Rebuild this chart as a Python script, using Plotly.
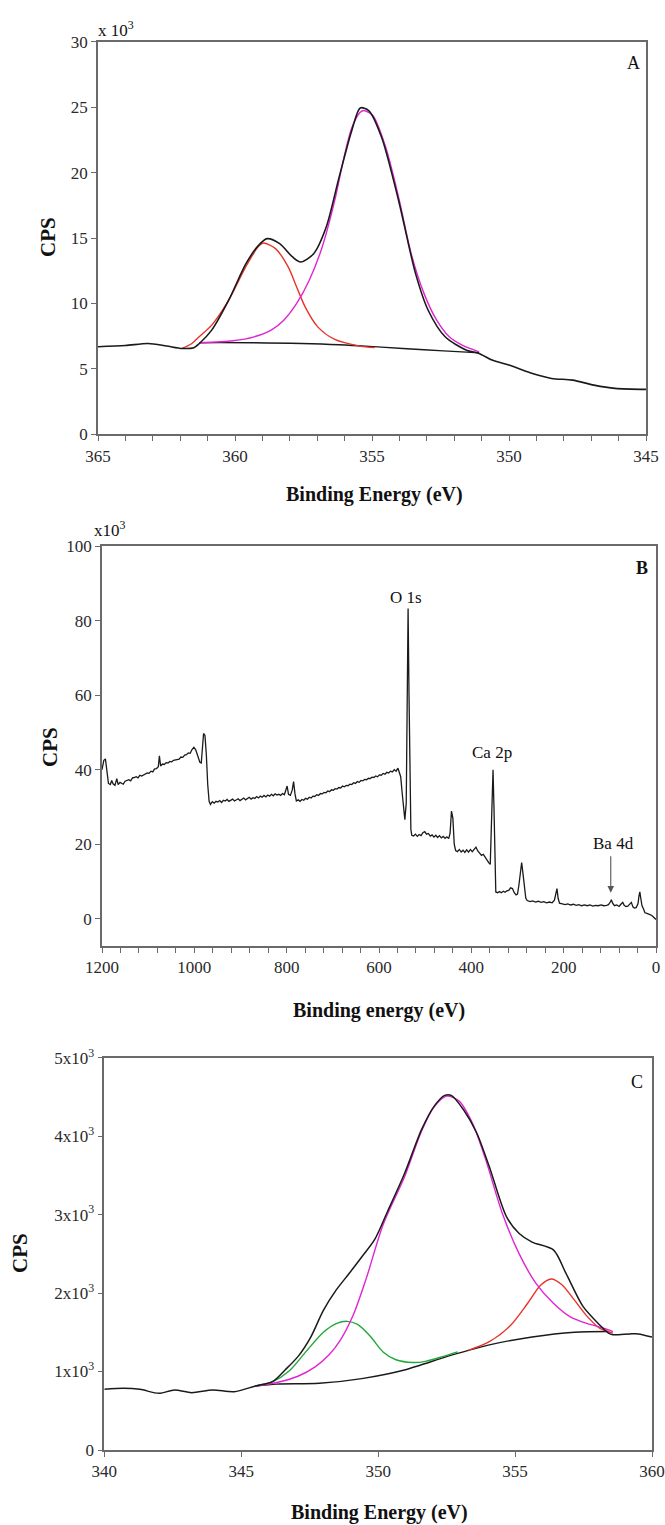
import plotly.graph_objects as go

W, H = 665, 1525
FONT = "Liberation Serif"

# ---------------- Panel A (Ca 2p high resolution), CPS in 10^3 ----------------
a_env_x = [365, 364.0, 363.17, 362.5, 361.93, 361.5, 361.3, 360.85, 360.23, 359.6, 359.14, 358.83,
           358.37, 357.9, 357.6, 357.13, 356.67, 356.2, 355.74, 355.43, 355.12, 354.65, 354.03,
           353.41, 352.95, 352.33, 351.55, 351.09, 350.62, 350.0, 349.23, 348.45, 347.68, 346.9,
           346.13, 345]
a_env_y = [6.69, 6.78, 6.94, 6.75, 6.56, 6.62, 6.94, 7.96, 10.25, 13.04, 14.44, 14.95,
           14.57, 13.55, 13.17, 13.8, 15.84, 19.65, 23.2, 24.94, 24.74, 22.7, 17.87,
           12.28, 9.48, 7.45, 6.43, 6.18, 5.67, 5.29, 4.7, 4.27, 4.14, 3.76,
           3.51, 3.43]
a_red_x = [361.93, 361.6, 361.31, 360.85, 360.23, 359.61, 359.14, 358.96, 358.52, 358.06, 357.75,
           357.44, 356.98, 356.36, 355.43, 354.9]
a_red_y = [6.56, 6.9, 7.45, 8.34, 10.25, 12.79, 14.37, 14.62, 14.19, 12.79, 11.26,
           9.74, 8.21, 7.25, 6.74, 6.62]
a_mag_x = [361.31, 360.07, 359.3, 358.68, 358.22, 357.75, 357.29, 356.82, 356.36, 356.05,
           355.74, 355.43, 355.3, 354.97, 354.5, 354.03, 353.57, 353.1, 352.64, 352.18,
           351.71, 351.09]
a_mag_y = [7.0, 7.15, 7.45, 7.96, 8.72, 10.0, 11.77, 14.3, 17.87, 20.9,
           23.4, 24.6, 24.74, 24.36, 21.94, 18.13, 13.8, 10.75, 8.72, 7.45,
           6.81, 6.3]
a_base_x = [361.31, 359.3, 356.2, 354.65, 353.1, 351.55, 351.09]
a_base_y = [7.0, 6.99, 6.84, 6.66, 6.46, 6.28, 6.23]

# ---------------- Panel B (survey), CPS in 10^3 ----------------
b_x = [1200, 1196, 1192.6, 1189, 1186, 1182, 1179, 1176, 1172, 1168, 1165, 1161, 1157, 1154, 1150,
       1146, 1142, 1138, 1134, 1130, 1126, 1122, 1118, 1114, 1110, 1106, 1102, 1098, 1094, 1090,
       1086, 1082, 1078, 1075.7, 1073, 1069, 1065, 1061, 1057, 1053, 1049, 1045, 1041, 1037, 1033,
       1029, 1025, 1021, 1017, 1013, 1009, 1005, 1001, 997, 993, 988, 985, 982, 980, 977, 974,
       971, 968, 965,
       961, 957, 953, 949, 945, 941, 937, 933, 929, 925, 921, 917, 913, 909, 905, 901, 897, 893,
       889, 885, 881, 877, 873, 869, 865, 861, 857, 853, 849, 845, 841, 837, 833, 829, 825, 821,
       817, 813, 809, 805, 801, 799, 796, 792, 788, 785, 782, 779, 775, 771, 767, 763, 759, 755,
       751, 747, 743, 739, 735, 731, 727, 723, 719, 715, 711, 707, 703, 699, 695, 691, 687, 683,
       679, 675, 671, 667, 663, 659, 655, 651, 647, 643, 639, 635, 631, 627, 623, 619, 615, 611,
       607, 603, 599, 595, 591, 587, 583, 579, 575, 571, 567, 563, 559, 556, 553, 550, 547, 544,
       541, 538, 537, 535, 533, 531, 529,
       525, 521, 517, 513, 509, 505, 501, 497, 493, 489, 485, 481, 477, 473, 469, 465, 461, 457,
       453, 449, 446, 443, 440, 437, 434,
       430, 426, 422, 418, 414, 410, 406, 402, 398, 394, 390, 386, 382, 378, 374, 370, 366, 362,
       359, 356, 353, 351, 349, 347,
       343, 339, 335, 331, 327, 323, 319, 315, 311, 307, 303, 300, 297, 294, 291, 288, 285, 282, 279,
       273, 267, 261, 255, 249, 243, 237, 231, 225, 220, 217, 214.5, 212, 209, 203, 197, 191, 185,
       179, 173, 167, 161, 155, 149, 143, 137, 131, 125, 119, 113, 107, 103, 99, 96.7, 94, 90, 85,
       80, 76, 72, 69, 65, 61, 57, 53.4, 50, 47, 43, 39, 37, 35, 33, 30.3, 27, 24, 21, 17, 13, 9,
       5, 2, 0]
b_y = [40.0, 42.5, 42.9, 39.0, 36.3, 36.0, 37.1, 36.2, 35.8, 37.6, 36.0, 36.6, 36.3, 36.1, 36.9,
       37.0, 37.3, 37.0, 37.8, 37.9, 38.1, 37.8, 38.5, 38.3, 38.6, 38.9, 39.1, 39.0, 39.6, 39.4,
       40.2, 40.3, 40.8, 43.7, 41.0, 41.5, 41.4, 41.9, 41.8, 42.2, 42.1, 42.5, 42.6, 42.9, 42.8,
       43.4, 43.3, 43.9, 44.0, 44.5, 44.4, 45.4, 46.0, 45.3, 43.7, 42.0, 41.8, 46.0, 49.7, 49.2, 44.0,
       36.0, 31.5, 30.7,
       31.4, 31.0, 31.5, 31.3, 31.7, 31.2, 31.8, 31.6, 32.0, 31.5, 31.9, 32.1, 31.6, 31.9, 32.2,
       31.7, 32.1, 32.4, 31.9, 32.3, 32.6, 32.1, 32.5, 32.3, 32.8, 32.4, 32.9, 32.6, 33.1, 32.7,
       33.2, 32.9, 33.4, 33.0, 33.5, 33.2, 33.4, 33.1, 33.6, 33.3, 35.0, 35.6, 33.4, 33.1, 34.5,
       36.8, 33.5, 31.6, 31.9, 31.5, 32.0, 31.8, 32.3, 32.1, 32.6, 32.4, 32.9, 32.8, 33.3, 33.1,
       33.6, 33.5, 33.9, 33.8, 34.3, 34.1, 34.6, 34.5, 34.9, 34.8, 35.2, 35.1, 35.6, 35.4, 35.8,
       35.7, 36.1, 36.0, 36.5, 36.3, 36.8, 36.6, 37.1, 37.0, 37.4, 37.3, 37.7, 37.6, 38.0, 37.9,
       38.3, 38.1, 38.6, 38.5, 39.0, 38.8, 39.3, 39.1, 39.6, 39.4, 40.0, 39.6, 40.4, 39.0, 38.1,
       34.0, 29.0, 26.6, 31.0, 60.0, 83.2, 60.0, 35.0, 24.0, 22.4,
       22.2, 22.7, 22.1, 22.6, 22.3, 23.1, 23.4, 22.7, 22.9, 22.2, 22.5, 21.9, 22.4, 21.8, 22.3,
       21.7, 22.1, 21.6, 22.0, 21.5, 23.0, 28.9, 27.0, 20.0, 18.3,
       18.0, 18.6, 17.9, 18.4, 17.8, 18.5, 17.9, 18.6, 18.0, 18.7, 19.2, 18.2, 17.6, 17.0, 17.3,
       16.4, 15.9, 15.0, 14.6, 25.0, 40.0, 30.0, 15.0, 7.2,
       7.0, 7.3, 7.0, 7.4, 7.1, 7.5, 7.6, 8.3, 8.1, 7.0, 6.4, 6.6, 9.0, 12.5, 15.1, 12.0, 8.5, 5.5,
       4.9,
       4.6, 4.8, 4.5, 4.7, 4.4, 4.6, 4.3, 4.5, 4.3, 5.0, 7.0, 8.1, 5.5, 4.2, 4.0, 3.8, 4.0, 3.7,
       3.9, 3.6, 3.8, 3.5, 3.7, 3.5, 3.7, 3.4, 3.6, 3.5, 3.7, 3.5, 3.6, 3.8, 4.5, 5.1, 4.2, 3.5,
       3.7, 3.3, 3.9, 4.4, 3.6, 3.3, 3.4, 3.9, 4.4, 3.2, 2.9, 3.0, 4.0, 6.0, 7.2, 5.5, 3.5, 2.6,
       1.6, 1.5, 1.2, 1.1, 0.9, 0.4, 0.0, -0.2]
b_labels = ["O 1s", "Ca 2p", "Ba 4d"]

# ---------------- Panel C (Ca 2p, sample 2), CPS ----------------
c_env_x = [340, 340.7, 341.3, 342.0, 342.56, 343.19, 343.96, 344.74, 345.52, 346.14, 346.6,
           347.07, 347.54, 348.0, 348.47, 348.94, 349.4, 349.87, 350.33, 350.96, 351.58, 352.04,
           352.43, 352.67, 353.13, 353.6, 354.06, 354.69, 355.15, 355.62, 356.4, 356.86, 357.48,
           358.1, 358.41, 358.57, 359.19, 359.5, 360]
c_env_y = [773, 786, 773, 722, 765, 731, 765, 743, 816, 871, 1020,
           1190, 1440, 1780, 2040, 2250, 2460, 2680, 3030, 3520, 4080, 4380,
           4520, 4520, 4330, 4040, 3610, 2970, 2760, 2650, 2550, 2250, 1830,
           1590, 1490, 1470, 1480, 1480, 1440]
c_base_x = [345.52, 346.3, 347.85, 349.4, 350.96, 352.5, 353.3, 354.06, 355.62, 357.17, 358.41]
c_base_y = [816, 840, 850, 910, 1020, 1190, 1270, 1340, 1440, 1500, 1510]
c_grn_x = [345.52, 346.14, 346.76, 347.38, 348.0, 348.47, 348.86, 349.25, 349.71, 350.18,
           350.65, 351.27, 351.73, 352.35, 352.9]
c_grn_y = [816, 870, 1010, 1260, 1500, 1610, 1640, 1600, 1450, 1250,
           1150, 1115, 1130, 1190, 1250]
c_mag_x = [345.52, 346.3, 347.07, 347.7, 348.2, 348.62, 349.09, 349.56, 350.18, 350.96, 351.58,
           352.04, 352.5, 352.95, 353.45, 353.91, 354.53, 355.15, 355.77, 356.4, 357.0, 357.64,
           358.26, 358.57]
c_mag_y = [816, 860, 940, 1060, 1210, 1400, 1720, 2180, 2870, 3480, 4060,
           4370, 4510, 4450, 4160, 3720, 3020, 2500, 2120, 1870, 1700, 1610,
           1550, 1510]
c_red_x = [353.29, 354.06, 354.84, 355.46, 355.93, 356.32, 356.7, 357.17, 357.64, 358.1, 358.57]
c_red_y = [1270, 1380, 1590, 1870, 2100, 2180, 2110, 1910, 1700, 1550, 1490]
c_tickvals = [0, 1000, 2000, 3000, 4000, 5000]
c_ticktext = ["0", "1x10<sup>3</sup>", "2x10<sup>3</sup>", "3x10<sup>3</sup>",
              "4x10<sup>3</sup>", "5x10<sup>3</sup>"]

BLACK = "#1a1a1a"
RED = "#e8322a"
MAG = "#e024d2"
GRN = "#1fa83a"
AX = "#6a6a6a"

fig = go.Figure()


def add(x, y, color, xa, ya, shape="spline", width=1.4):
    line = dict(color=color, width=width, shape=shape)
    if shape == "spline":
        line["smoothing"] = 0.8
    fig.add_trace(go.Scatter(x=x, y=y, mode="lines", xaxis=xa, yaxis=ya, line=line,
                             showlegend=False, hoverinfo="skip"))


# Panel A
add(a_base_x, a_base_y, BLACK, "x", "y")
add(a_red_x, a_red_y, RED, "x", "y")
add(a_mag_x, a_mag_y, MAG, "x", "y")
add(a_env_x, a_env_y, BLACK, "x", "y", width=1.6)
# Panel B
add(b_x, b_y, BLACK, "x2", "y2", shape="linear", width=1.3)
# Panel C
add(c_base_x, c_base_y, BLACK, "x3", "y3")
add(c_grn_x, c_grn_y, GRN, "x3", "y3")
add(c_red_x, c_red_y, RED, "x3", "y3")
add(c_mag_x, c_mag_y, MAG, "x3", "y3")
add(c_env_x, c_env_y, BLACK, "x3", "y3", width=1.5)


def px(x):
    return x / W


def py(y):
    return 1 - y / H


tickfont = dict(family=FONT, size=17, color="#2a2a2a")
common = dict(showline=True, linecolor=AX, linewidth=1.6, mirror=True, ticks="outside",
              tickcolor=AX, ticklen=5, tickwidth=1.3, showgrid=False, zeroline=False,
              tickfont=tickfont, automargin=False)
minor_style = dict(ticks="outside", ticklen=5, tickcolor=AX, tickwidth=1.3, showgrid=False)

fig.update_layout(
    template="none",
    width=W, height=H, margin=dict(l=0, r=0, t=0, b=0, pad=0), autosize=False,
    paper_bgcolor="white", plot_bgcolor="white",
    xaxis=dict(domain=[px(98), px(646)], anchor="y", range=[365, 345], dtick=5,
               minor=dict(dtick=1, **minor_style), **common),
    yaxis=dict(domain=[py(434.3), py(41.7)], anchor="x", range=[0, 30], dtick=5, **common),
    xaxis2=dict(domain=[px(102), px(656)], anchor="y2", range=[1200, 0], dtick=200,
                minor=dict(dtick=40, **minor_style), **common),
    yaxis2=dict(domain=[py(946), py(546)], anchor="x2", range=[-7.3, 100], dtick=20, **common),
    xaxis3=dict(domain=[px(104.3), px(652)], anchor="y3", range=[340, 360], dtick=5, **common),
    yaxis3=dict(domain=[py(1450), py(1057.7)], anchor="x3", range=[0, 5000],
                tickvals=c_tickvals, ticktext=c_ticktext, **common),
)


def txt(x, y, s, size=17, bold=False, angle=0, xanchor="center"):
    if bold:
        s = "<b>" + s + "</b>"
    fig.add_annotation(x=px(x), y=py(y), xref="paper", yref="paper", text=s, showarrow=False,
                       font=dict(family=FONT, size=size, color="#111"), textangle=angle,
                       xanchor=xanchor, yanchor="middle")


# Panel A texts
txt(96, 29, "x 10<sup>3</sup>", size=17, xanchor="left")
txt(633, 63, "A", size=18)
txt(48, 237, "CPS", size=21, bold=True, angle=-90)
txt(374, 495, "Binding Energy (eV)", size=20, bold=True)
# Panel B texts
txt(92, 529, "x10<sup>3</sup>", size=17, xanchor="left")
txt(642, 568, "B", size=18, bold=True)
txt(50, 747, "CPS", size=21, bold=True, angle=-90)
txt(379, 1011, "Binding energy (eV)", size=20, bold=True)
txt(406, 597, b_labels[0], size=17)
txt(492, 752, b_labels[1], size=17)
txt(613, 843, b_labels[2], size=17)
fig.add_annotation(x=98, y=7.0, xref="x2", yref="y2", ax=0, ay=-38, showarrow=True,
                   arrowhead=2, arrowsize=1.2, arrowwidth=1.1, arrowcolor="#555", text="")
# Panel C texts
txt(637, 1082, "C", size=18)
txt(20, 1253, "CPS", size=21, bold=True, angle=-90)
txt(379, 1512, "Binding Energy (eV)", size=20, bold=True)

fig.write_html("out.html")
